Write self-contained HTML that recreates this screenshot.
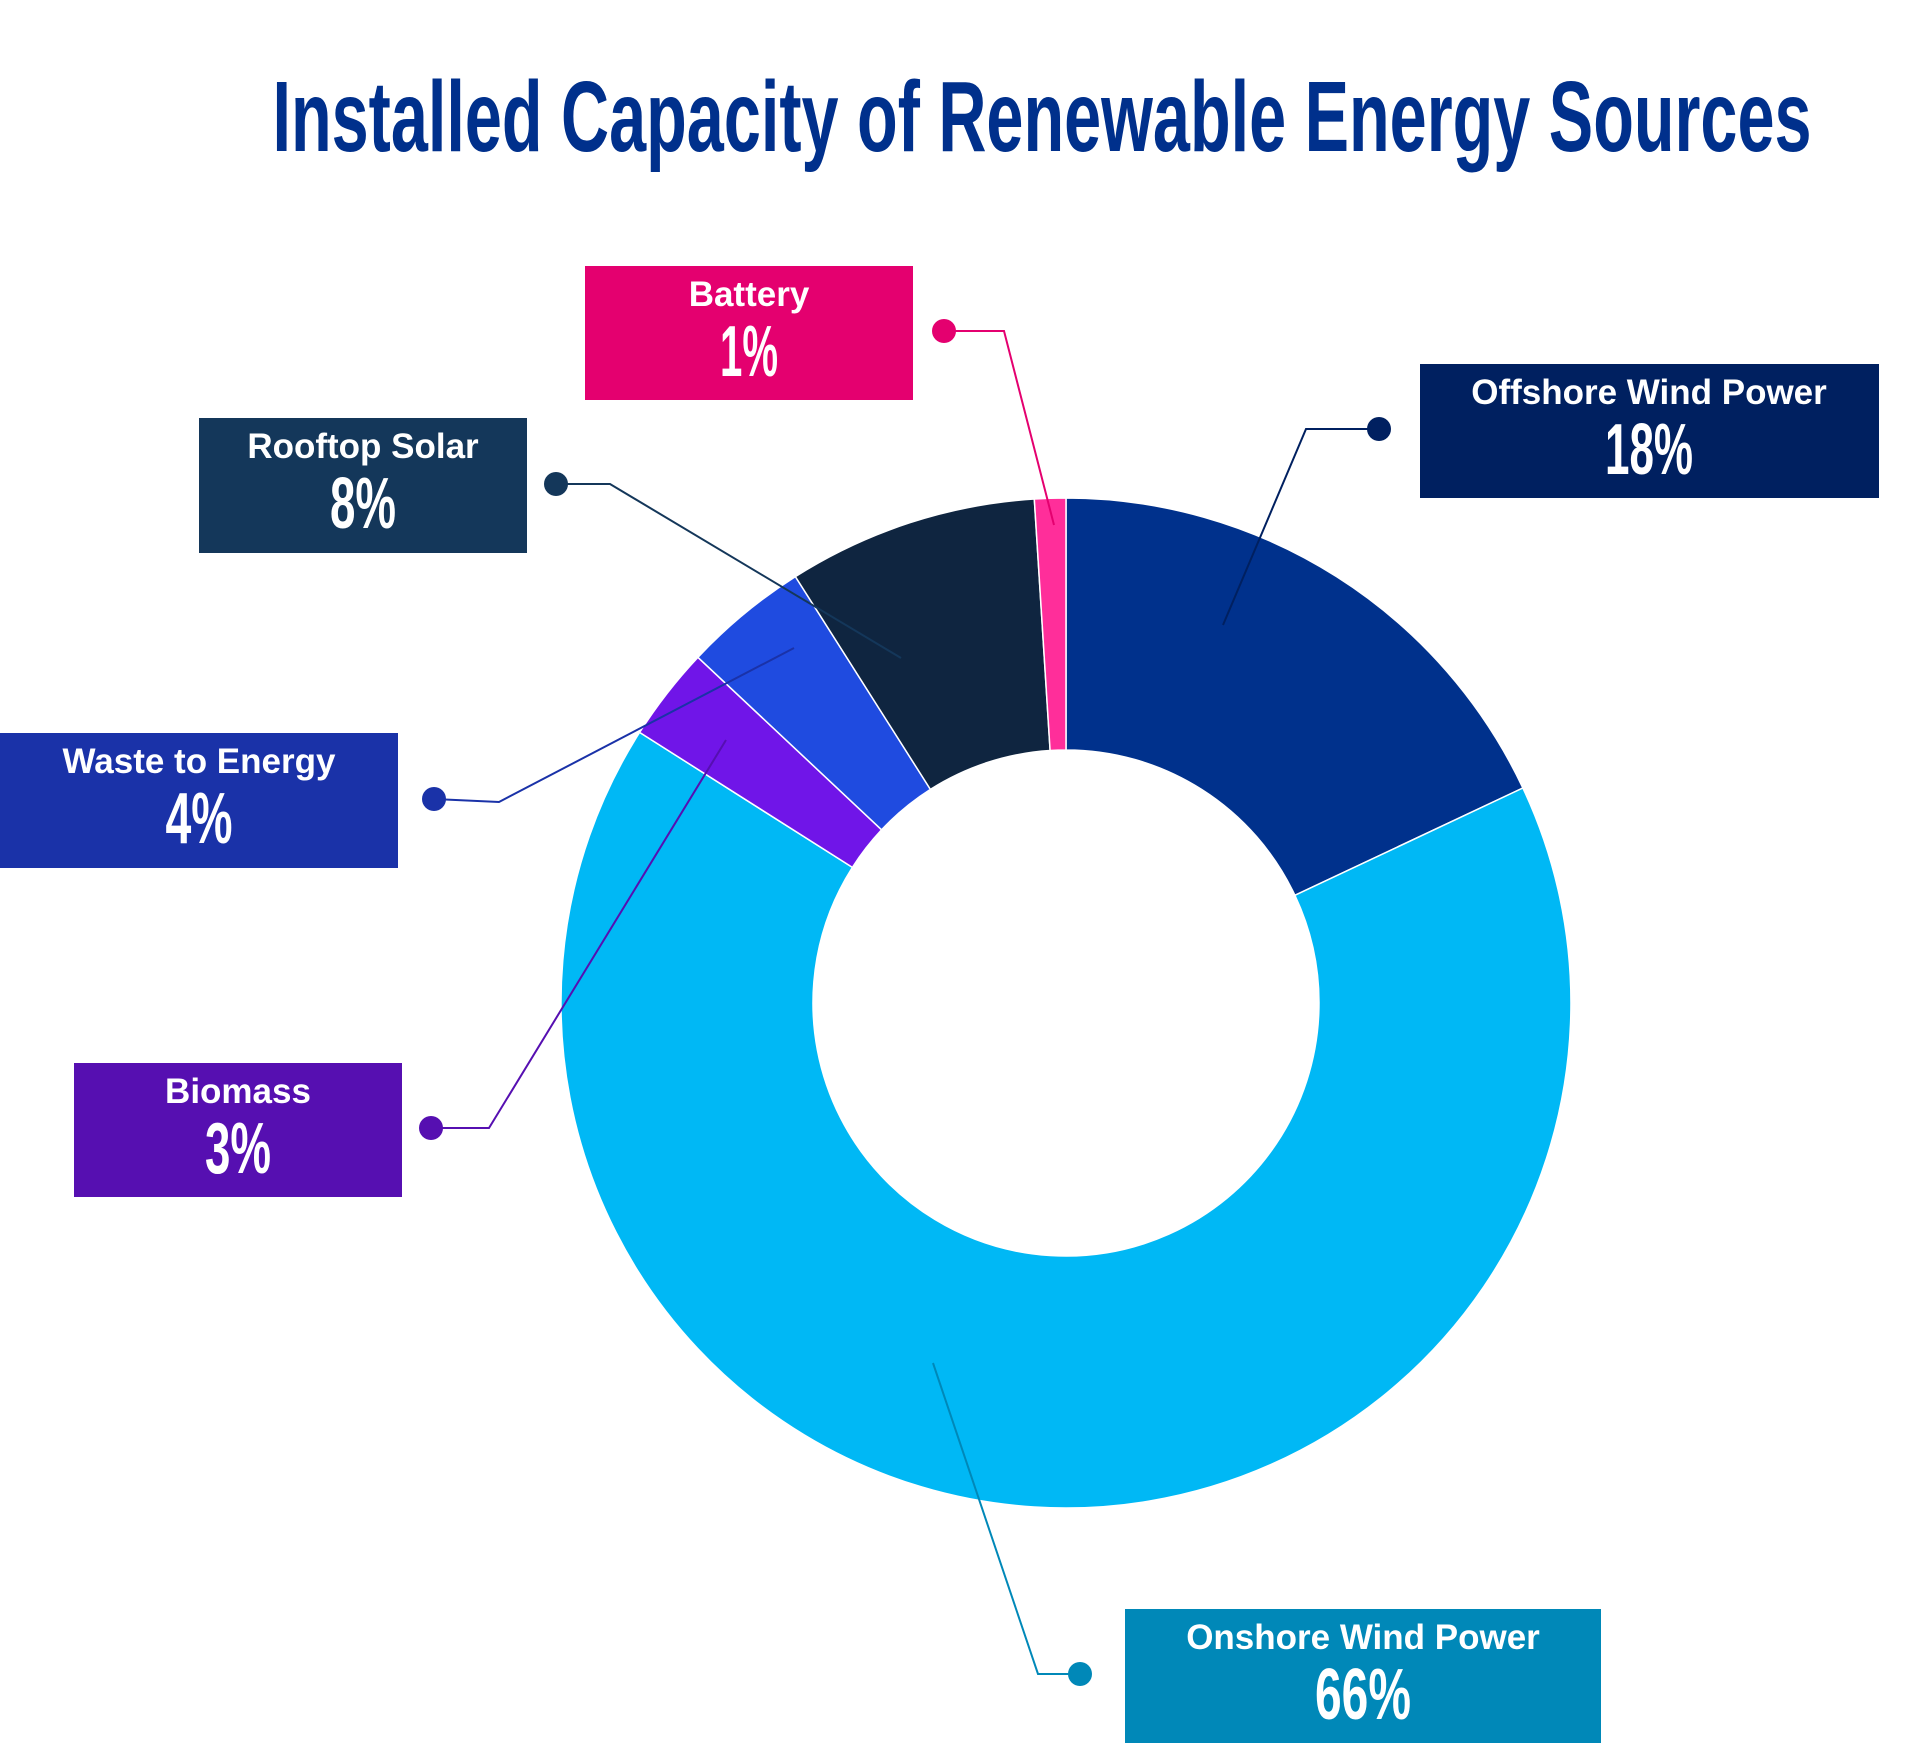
<!DOCTYPE html>
<html><head><meta charset="utf-8"><style>
html,body{margin:0;padding:0;background:#fff;}
svg{display:block;}
.l{font-family:"Liberation Sans",sans-serif;font-weight:bold;font-size:35px;fill:#fff;text-anchor:middle;}
.p{font-family:"Liberation Sans Narrow","Liberation Sans",sans-serif;font-weight:bold;font-size:72px;fill:#fff;text-anchor:middle;}
</style></head><body>
<svg width="1912" height="1764" viewBox="0 0 1912 1764" xmlns="http://www.w3.org/2000/svg">
<text x="1042" y="151" textLength="1539" lengthAdjust="spacingAndGlyphs" style="font-family:'Liberation Sans Narrow','Liberation Sans',sans-serif;font-weight:bold;font-size:100px;fill:#00308C;" text-anchor="middle">Installed Capacity of Renewable Energy Sources</text>
<g stroke="#fff" stroke-width="1.5">
<path d="M1066 498 A505 505 0 0 1 1522.9 788 L1294.9 895.3 A253 253 0 0 0 1066 750 Z" fill="#00318C"/>
<path d="M1522.9 788 A505 505 0 1 1 639.6 732.4 L852.4 867.4 A253 253 0 1 0 1294.9 895.3 Z" fill="#00B8F5"/>
<path d="M639.6 732.4 A505 505 0 0 1 697.9 657.3 L881.6 829.8 A253 253 0 0 0 852.4 867.4 Z" fill="#7015E8"/>
<path d="M697.9 657.3 A505 505 0 0 1 795.4 576.6 L930.4 789.4 A253 253 0 0 0 881.6 829.8 Z" fill="#1F4BE0"/>
<path d="M795.4 576.6 A505 505 0 0 1 1034.3 499 L1050.1 750.5 A253 253 0 0 0 930.4 789.4 Z" fill="#0F2540"/>
<path d="M1034.3 499 A505 505 0 0 1 1066 498 L1066 750 A253 253 0 0 0 1050.1 750.5 Z" fill="#FF2E9A"/>
</g>
<g fill="none" stroke-width="2">
<polyline points="944,331 1004,331 1054,525" stroke="#E4006F"/>
<polyline points="1379,429 1306,429 1223,625" stroke="#002060"/>
<polyline points="556,484 610,484 901,658" stroke="#14375A"/>
<polyline points="434,799 499,802 794,648" stroke="#1A32A8"/>
<polyline points="431,1128 489,1128 726,740" stroke="#560FB1"/>
<polyline points="1080,1674 1038,1674 933,1363" stroke="#0088B8"/>
</g>
<circle cx="944" cy="331" r="12" fill="#E4006F"/>
<circle cx="1379" cy="429" r="12" fill="#002060"/>
<circle cx="556" cy="484" r="12" fill="#14375A"/>
<circle cx="434" cy="799" r="12" fill="#1A32A8"/>
<circle cx="431" cy="1128" r="12" fill="#560FB1"/>
<circle cx="1080" cy="1674" r="12" fill="#0088B8"/>

<rect x="585" y="266" width="328" height="134" fill="#E4006F"/>
<text class="l" x="749" y="306">Battery</text><text class="p" x="749" y="376" textLength="58" lengthAdjust="spacingAndGlyphs">1%</text>
<rect x="1420" y="364" width="459" height="134" fill="#002060"/>
<text class="l" x="1649" y="404">Offshore Wind Power</text><text class="p" x="1649" y="474" textLength="88" lengthAdjust="spacingAndGlyphs">18%</text>
<rect x="199" y="418" width="328" height="135" fill="#14375A"/>
<text class="l" x="363" y="458">Rooftop Solar</text><text class="p" x="363" y="528" textLength="66" lengthAdjust="spacingAndGlyphs">8%</text>
<rect x="0" y="733" width="398" height="135" fill="#1A32A8"/>
<text class="l" x="199" y="773">Waste to Energy</text><text class="p" x="199" y="843" textLength="67" lengthAdjust="spacingAndGlyphs">4%</text>
<rect x="74" y="1063" width="328" height="134" fill="#560FB1"/>
<text class="l" x="238" y="1103">Biomass</text><text class="p" x="238" y="1173" textLength="66" lengthAdjust="spacingAndGlyphs">3%</text>
<rect x="1125" y="1609" width="476" height="134" fill="#0088B8"/>
<text class="l" x="1363" y="1649">Onshore Wind Power</text><text class="p" x="1363" y="1719" textLength="96" lengthAdjust="spacingAndGlyphs">66%</text>
</svg>
</body></html>
